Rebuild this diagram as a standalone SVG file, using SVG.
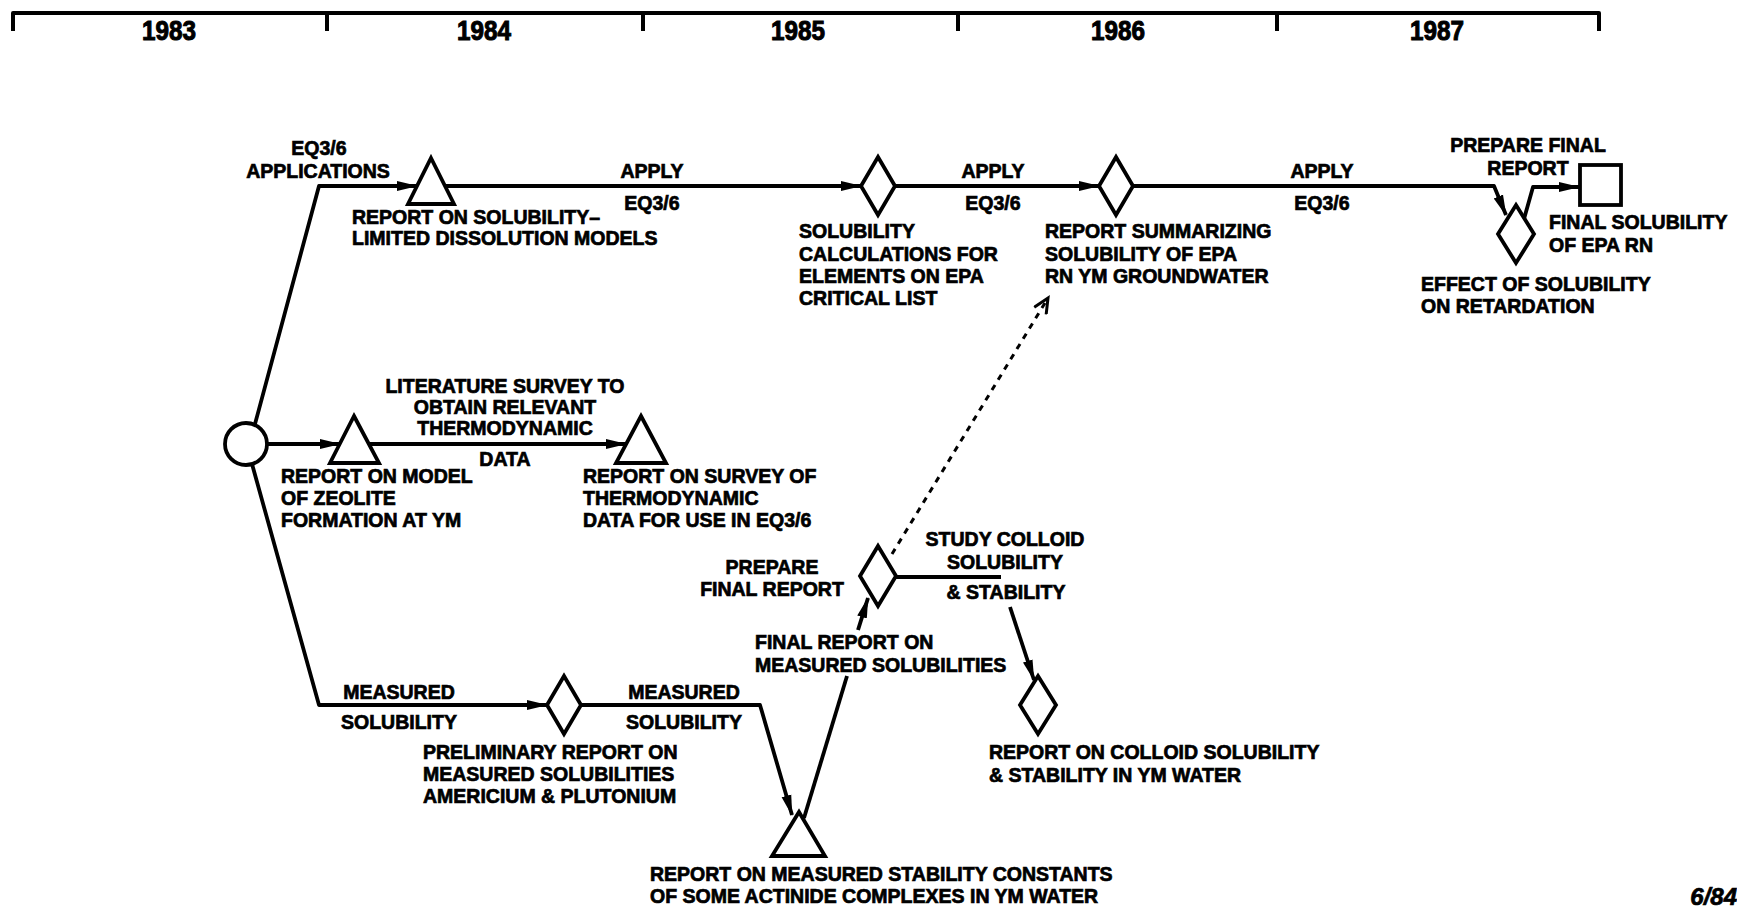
<svg xmlns="http://www.w3.org/2000/svg" width="1737" height="907" viewBox="0 0 1737 907">
  <style>
    .bg { fill: #ffffff; }
    .axis { fill: none; stroke: #000; stroke-width: 4; stroke-linejoin: round; }
    .shape { fill: #ffffff; stroke: #000; stroke-width: 3.8; stroke-linejoin: miter; }
    .link { fill: none; stroke: #000; stroke-width: 3.8; stroke-linejoin: round; }
    .dash { fill: none; stroke: #000; stroke-width: 3; stroke-dasharray: 6 6; }
    text { font-family: "Liberation Sans", Arial, sans-serif; font-weight: bold; font-size: 19.5px; fill: #000; stroke: #000; stroke-width: 0.7px; }
    .year { font-size: 27px; text-anchor: middle; stroke-width: 1px; }
    .mid { text-anchor: middle; }
    .stamp { font-size: 24px; font-style: italic; text-anchor: end; }
  </style>
  <defs>
    <marker id="arrow" markerUnits="userSpaceOnUse" markerWidth="22" markerHeight="12" refX="20" refY="6" orient="auto">
      <path d="M0,1 L21,6 L0,11 z" fill="#000"/>
    </marker>
    <marker id="arrowOpen" markerUnits="userSpaceOnUse" markerWidth="20" markerHeight="16" refX="17" refY="8" orient="auto">
      <path d="M2,1 L17,8 L2,15" fill="none" stroke="#000" stroke-width="3"/>
    </marker>
  </defs>

  <rect class="bg" x="0" y="0" width="1737" height="907"/>

  <!-- time scale -->
  <g id="timeline">
    <path class="axis" d="M13,31 V13 H1599 V31 M327,13 V31 M643,13 V31 M958,13 V31 M1277,13 V31"/>
    <text class="year" x="169" y="40" textLength="54" lengthAdjust="spacingAndGlyphs">1983</text>
    <text class="year" x="484" y="40" textLength="54" lengthAdjust="spacingAndGlyphs">1984</text>
    <text class="year" x="798" y="40" textLength="54" lengthAdjust="spacingAndGlyphs">1985</text>
    <text class="year" x="1118" y="40" textLength="54" lengthAdjust="spacingAndGlyphs">1986</text>
    <text class="year" x="1437" y="40" textLength="54" lengthAdjust="spacingAndGlyphs">1987</text>
  </g>

  <!-- connectors -->
  <g id="connectors">
    <!-- upper path: EQ3/6 applications -->
    <path class="link" d="M255,424 L319,186 H417" marker-end="url(#arrow)"/>
    <path class="link" d="M445,186 H861" marker-end="url(#arrow)"/>
    <path class="link" d="M895,186 H1099" marker-end="url(#arrow)"/>
    <path class="link" d="M1133,186 H1494 L1506,215" marker-end="url(#arrow)"/>
    <path class="link" d="M1524,219 L1533,187 H1579" marker-end="url(#arrow)"/>
    <!-- middle path: literature survey -->
    <path class="link" d="M267,444 H340" marker-end="url(#arrow)"/>
    <path class="link" d="M369,444 H626" marker-end="url(#arrow)"/>
    <!-- lower path: measured solubility -->
    <path class="link" d="M252,464 L319,705 H547" marker-end="url(#arrow)"/>
    <path class="link" d="M581,705 H760 L792,815" marker-end="url(#arrow)"/>
    <path class="link" d="M804,818 L847,676"/>
    <path class="link" d="M858,630 L868,598" marker-end="url(#arrow)"/>
    <path class="link" d="M896,577 H1001"/>
    <path class="link" d="M1010,607 L1034,680" marker-end="url(#arrow)"/>
    <!-- dotted tie to groundwater summary -->
    <path class="dash" d="M892,554 L1048,298" marker-end="url(#arrowOpen)"/>
  </g>

  <!-- start -->
  <g id="start">
    <circle class="shape" cx="246" cy="444" r="21"/>
  </g>

  <!-- upper path nodes -->
  <g id="report-dissolution-models">
    <polygon class="shape" points="431,158 454,204 408,204"/>
    <text x="352" y="224">REPORT ON SOLUBILITY–</text>
    <text x="352" y="245">LIMITED DISSOLUTION MODELS</text>
  </g>
  <g id="solubility-calculations">
    <polygon class="shape" points="878,157 895,186 878,215 861,186"/>
    <text x="799" y="238">SOLUBILITY</text>
    <text x="799" y="261">CALCULATIONS FOR</text>
    <text x="799" y="283">ELEMENTS ON EPA</text>
    <text x="799" y="305">CRITICAL LIST</text>
  </g>
  <g id="groundwater-summary">
    <polygon class="shape" points="1116,157 1133,186 1116,215 1099,186"/>
    <text x="1045" y="238">REPORT SUMMARIZING</text>
    <text x="1045" y="261">SOLUBILITY OF EPA</text>
    <text x="1045" y="283">RN YM GROUNDWATER</text>
  </g>
  <g id="retardation-effect">
    <polygon class="shape" points="1516,205 1534,234 1516,263 1498,234"/>
    <text x="1421" y="291">EFFECT OF SOLUBILITY</text>
    <text x="1421" y="313">ON RETARDATION</text>
  </g>
  <g id="final-solubility">
    <rect class="shape" x="1580" y="165" width="41" height="40"/>
    <text x="1549" y="229">FINAL SOLUBILITY</text>
    <text x="1549" y="252">OF EPA RN</text>
  </g>

  <!-- middle path nodes -->
  <g id="zeolite-model">
    <polygon class="shape" points="354,416 379,463 330,463"/>
    <text x="281" y="483">REPORT ON MODEL</text>
    <text x="281" y="505">OF ZEOLITE</text>
    <text x="281" y="527">FORMATION AT YM</text>
  </g>
  <g id="thermodynamic-survey">
    <polygon class="shape" points="641,416 666,463 616,463"/>
    <text x="583" y="483">REPORT ON SURVEY OF</text>
    <text x="583" y="505">THERMODYNAMIC</text>
    <text x="583" y="527">DATA FOR USE IN EQ3/6</text>
  </g>

  <!-- lower path nodes -->
  <g id="preliminary-report">
    <polygon class="shape" points="564,676 581,705 564,734 547,705"/>
    <text x="423" y="759">PRELIMINARY REPORT ON</text>
    <text x="423" y="781">MEASURED SOLUBILITIES</text>
    <text x="423" y="803">AMERICIUM &amp; PLUTONIUM</text>
  </g>
  <g id="stability-constants">
    <polygon class="shape" points="799,812 825,856 772,856"/>
    <text x="650" y="881">REPORT ON MEASURED STABILITY CONSTANTS</text>
    <text x="650" y="903">OF SOME ACTINIDE COMPLEXES IN YM WATER</text>
  </g>
  <g id="measured-solubilities-final">
    <polygon class="shape" points="878,546 896,576 878,606 860,576"/>
    <text x="755" y="649">FINAL REPORT ON</text>
    <text x="755" y="672">MEASURED SOLUBILITIES</text>
  </g>
  <g id="colloid-report">
    <polygon class="shape" points="1038,676 1056,705 1038,734 1020,705"/>
    <text x="989" y="759">REPORT ON COLLOID SOLUBILITY</text>
    <text x="989" y="782">&amp; STABILITY IN YM WATER</text>
  </g>

  <!-- activity labels -->
  <g id="activity-labels">
    <text class="mid" x="319" y="155">EQ3/6</text>
    <text class="mid" x="318" y="178">APPLICATIONS</text>
    <text class="mid" x="652" y="178">APPLY</text>
    <text class="mid" x="652" y="210">EQ3/6</text>
    <text class="mid" x="993" y="178">APPLY</text>
    <text class="mid" x="993" y="210">EQ3/6</text>
    <text class="mid" x="1322" y="178">APPLY</text>
    <text class="mid" x="1322" y="210">EQ3/6</text>
    <text class="mid" x="1528" y="152">PREPARE FINAL</text>
    <text class="mid" x="1528" y="175">REPORT</text>
    <text class="mid" x="505" y="393">LITERATURE SURVEY TO</text>
    <text class="mid" x="505" y="414">OBTAIN RELEVANT</text>
    <text class="mid" x="505" y="435">THERMODYNAMIC</text>
    <text class="mid" x="505" y="466">DATA</text>
    <text class="mid" x="399" y="699">MEASURED</text>
    <text class="mid" x="399" y="729">SOLUBILITY</text>
    <text class="mid" x="684" y="699">MEASURED</text>
    <text class="mid" x="684" y="729">SOLUBILITY</text>
    <text class="mid" x="772" y="574">PREPARE</text>
    <text class="mid" x="772" y="596">FINAL REPORT</text>
    <text class="mid" x="1005" y="546">STUDY COLLOID</text>
    <text class="mid" x="1005" y="569">SOLUBILITY</text>
    <text class="mid" x="1006" y="599">&amp; STABILITY</text>
  </g>

  <text class="stamp" x="1737" y="905">6/84</text>
</svg>
